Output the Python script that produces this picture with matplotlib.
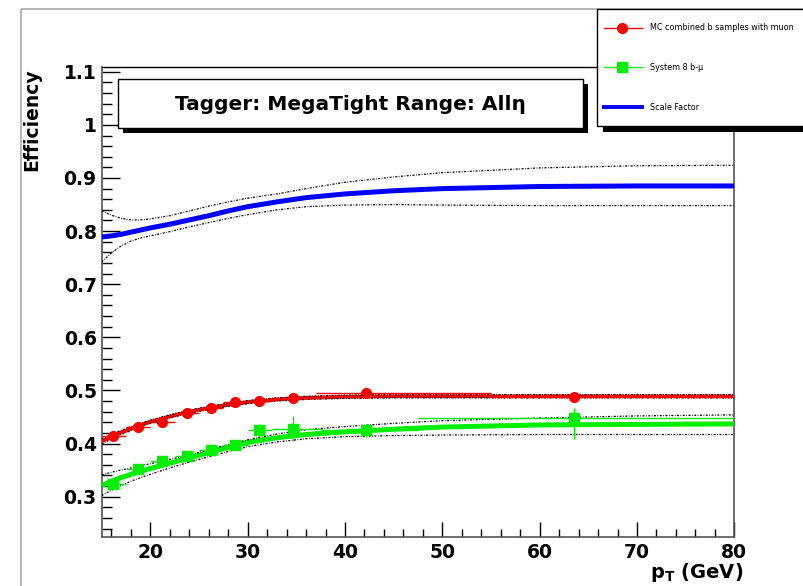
import matplotlib
matplotlib.use("Agg")
import matplotlib.pyplot as plt
from matplotlib.patches import Rectangle
from matplotlib.ticker import MultipleLocator, FuncFormatter

W, H = 804, 586

# measured points (pT bin centres, efficiencies)
pt = [16.2, 18.7, 21.2, 23.8, 26.25, 28.7, 31.2, 34.65, 42.2, 63.5]
mc_eff = [0.415, 0.431, 0.441, 0.458, 0.466, 0.479, 0.481, 0.486, 0.495, 0.488]
mc_err = [0.005, 0.004, 0.004, 0.004, 0.004, 0.004, 0.004, 0.004, 0.004, 0.007]
mc_lo = [15.0, 17.5, 20.0, 22.5, 25.0, 27.5, 30.0, 32.5, 37.0, 55.0]
mc_hi = [17.5, 20.0, 22.5, 25.0, 27.5, 30.0, 32.5, 37.0, 55.0, 80.0]

sys_eff = [0.324, 0.352, 0.368, 0.377, 0.387, 0.397, 0.425, 0.428, 0.425, 0.449]
sys_err_dn = [0.006, 0.006, 0.006, 0.006, 0.006, 0.006, 0.012, 0.024, 0.012, 0.040]
sys_err_up = [0.006, 0.006, 0.006, 0.006, 0.006, 0.006, 0.012, 0.024, 0.012, 0.017]
sys_lo = [15.0, 17.5, 20.0, 22.5, 25.0, 27.5, 30.0, 32.5, 37.5, 47.5]
sys_hi = [17.5, 20.0, 22.5, 25.0, 27.5, 30.0, 32.5, 37.5, 47.5, 80.0]

# fitted curves
pt_fit = [15, 16, 17, 18, 19, 20, 22, 24, 26, 28, 30, 33, 36, 40, 45, 50, 60, 70, 80]
mc_fit = [0.404, 0.413, 0.421, 0.428, 0.435, 0.441, 0.451, 0.460, 0.467, 0.473,
          0.478, 0.483, 0.486, 0.488, 0.489, 0.489, 0.489, 0.489, 0.489]
mc_fit_up = [0.409, 0.417, 0.425, 0.432, 0.438, 0.444, 0.454, 0.463, 0.470, 0.476,
             0.481, 0.486, 0.489, 0.491, 0.492, 0.492, 0.492, 0.492, 0.492]
mc_fit_dn = [0.399, 0.409, 0.417, 0.424, 0.432, 0.438, 0.448, 0.457, 0.464, 0.470,
             0.475, 0.480, 0.483, 0.485, 0.486, 0.486, 0.486, 0.486, 0.486]

sys_fit = [0.321, 0.329, 0.336, 0.342, 0.348, 0.353, 0.363, 0.373, 0.383, 0.393,
           0.402, 0.411, 0.417, 0.422, 0.427, 0.431, 0.435, 0.436, 0.437]
sys_fit_up = [0.341, 0.346, 0.350, 0.354, 0.358, 0.362, 0.370, 0.379, 0.388, 0.398,
              0.407, 0.418, 0.426, 0.432, 0.438, 0.443, 0.448, 0.452, 0.454]
sys_fit_dn = [0.302, 0.312, 0.321, 0.329, 0.336, 0.342, 0.354, 0.365, 0.375, 0.385,
              0.394, 0.403, 0.409, 0.413, 0.415, 0.416, 0.417, 0.417, 0.417]

sf_fit = [0.789, 0.791, 0.794, 0.798, 0.802, 0.806, 0.813, 0.821, 0.829, 0.838,
          0.846, 0.855, 0.863, 0.870, 0.876, 0.880, 0.884, 0.885, 0.885]
sf_fit_up = [0.838, 0.830, 0.824, 0.821, 0.821, 0.823, 0.829, 0.838, 0.847, 0.855,
             0.862, 0.870, 0.880, 0.892, 0.902, 0.910, 0.919, 0.923, 0.924]
sf_fit_dn = [0.742, 0.759, 0.772, 0.781, 0.787, 0.791, 0.799, 0.808, 0.816, 0.824,
             0.831, 0.840, 0.846, 0.849, 0.850, 0.849, 0.848, 0.848, 0.848]

legend_labels = ["MC combined b samples with muon", "System 8 b-\u03bc", "Scale Factor"]
title_text = "Tagger: MegaTight Range: All\u03b7"

RED, GREEN, BLUE = "#ff0000", "#00ee00", "#0000ff"
DOT = (0, (1.6, 1.2, 0.6, 1.2))

plt.rcParams["font.family"] = "DejaVu Sans"
plt.rcParams["font.weight"] = "bold"
plt.rcParams["mathtext.default"] = "bf"


def px_box(x0, y0, x1, y1):
    return [x0 / W, 1 - y1 / H, (x1 - x0) / W, (y1 - y0) / H]


fig = plt.figure(figsize=(W / 100, H / 100), dpi=100)
fig.patch.set_facecolor("white")

# outer pad frame
bg = fig.add_axes([0, 0, 1, 1], zorder=-1)
bg.set_xlim(0, W)
bg.set_ylim(H, 0)
bg.axis("off")
bg.add_patch(Rectangle((21, 9), 900, 700, fill=False, ec="#aaaaaa", lw=1.2))

ax = fig.add_axes(px_box(101.7, 67, 734.3, 537))

# fits and their error bands
ax.plot(pt_fit, sf_fit, color=BLUE, lw=3.6, zorder=3)
ax.plot(pt_fit, sf_fit_up, color="black", lw=0.9, ls=DOT, zorder=4)
ax.plot(pt_fit, sf_fit_dn, color="black", lw=0.9, ls=DOT, zorder=4)

ax.plot(pt_fit, sys_fit, color=GREEN, lw=3.6, zorder=3)
ax.plot(pt_fit, sys_fit_up, color="black", lw=0.9, ls=DOT, zorder=4)
ax.plot(pt_fit, sys_fit_dn, color="black", lw=0.9, ls=DOT, zorder=4)

ax.plot(pt_fit, mc_fit, color=RED, lw=2.6, zorder=3)
ax.plot(pt_fit, mc_fit_up, color="black", lw=0.9, ls=DOT, zorder=4)
ax.plot(pt_fit, mc_fit_dn, color="black", lw=0.9, ls=DOT, zorder=4)

# data points
mc_xerr = [[p - l for p, l in zip(pt, mc_lo)], [h - p for p, h in zip(pt, mc_hi)]]
sys_xerr = [[p - l for p, l in zip(pt, sys_lo)], [h - p for p, h in zip(pt, sys_hi)]]
ax.errorbar(pt, mc_eff, xerr=mc_xerr, yerr=mc_err, fmt="o", color=RED, ms=7,
            elinewidth=1, capsize=0, zorder=5)
ax.errorbar(pt, sys_eff, xerr=sys_xerr, yerr=[sys_err_dn, sys_err_up], fmt="s",
            color=GREEN, ms=6.5, elinewidth=1, capsize=0, zorder=5)

ax.set_xlim(15, 80)
ax.set_ylim(0.224, 1.109)
ax.xaxis.set_major_locator(MultipleLocator(10))
ax.xaxis.set_minor_locator(MultipleLocator(2))
ax.yaxis.set_major_locator(MultipleLocator(0.1))
ax.yaxis.set_minor_locator(MultipleLocator(0.02))
ax.yaxis.set_major_formatter(FuncFormatter(lambda v, p: f"{round(v, 2):g}"))
ax.tick_params(axis="both", which="both", direction="in", width=1, labelsize=13.5,
               top=False, right=False)
ax.tick_params(axis="y", which="major", length=13, pad=3.6)
ax.tick_params(axis="y", which="minor", length=7)
ax.tick_params(axis="x", which="major", length=11, pad=4)
ax.tick_params(axis="x", which="minor", length=6)
for side in ["left", "bottom", "right"]:
    ax.spines[side].set_color("#555555")
    ax.spines[side].set_linewidth(1.2)
ax.spines["top"].set_linewidth(1)

# foreground: title box, legend, axis titles
fg = fig.add_axes([0, 0, 1, 1], zorder=5)
fg.set_xlim(0, W)
fg.set_ylim(H, 0)
fg.axis("off")
fg.patch.set_visible(False)

fg.add_patch(Rectangle((123, 84), 464.7, 49, fc="black", ec="none"))
fg.add_patch(Rectangle((118.3, 79.3), 464.7, 49, fc="white", ec="black", lw=1))
fg.text(350, 104, title_text, ha="center", va="center", fontsize=14.5, fontweight="bold")

fg.add_patch(Rectangle((603, 15), 230, 116.7, fc="black", ec="none"))
fg.add_patch(Rectangle((597, 9), 230, 117, fc="white", ec="black", lw=1))
fg.plot([604, 642], [28, 28], color=RED, lw=1)
fg.plot([622], [28], "o", color=RED, ms=7)
fg.plot([604, 642], [67, 67], color=GREEN, lw=1)
fg.plot([622], [67], "s", color=GREEN, ms=6.5)
fg.plot([604, 642], [107, 107], color=BLUE, lw=2.8)
for yy, lab in zip([28, 67, 107], legend_labels):
    fg.text(650, yy, lab, ha="left", va="center", fontsize=5.8, fontweight="normal")

fg.text(31.5, 68, "Efficiency", rotation=90, ha="center", va="top", fontsize=13.5,
        fontweight="bold")
fg.text(743, 578, "p$_{T}$ (GeV)", ha="right", va="baseline", fontsize=14,
        fontweight="bold")

fig.savefig("out.png", dpi=100)
plt.close(fig)
